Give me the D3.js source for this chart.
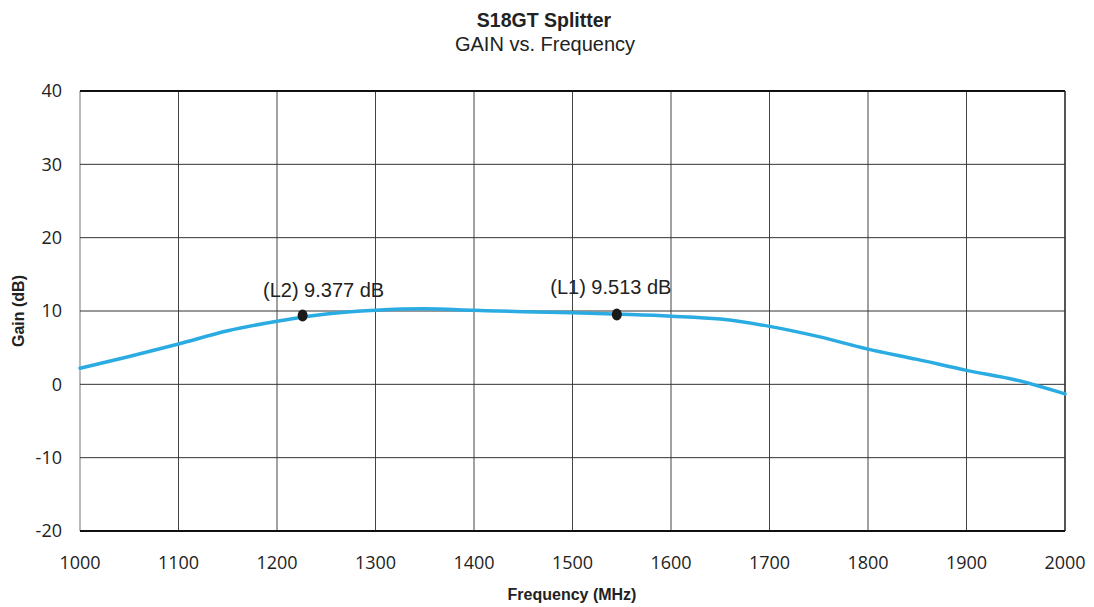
<!DOCTYPE html>
<html>
<head>
<meta charset="utf-8">
<script src="https://cdn.jsdelivr.net/npm/d3@7"></script>
<style>
	body { margin: 0; background: #fff; }
	svg text { font-family: "Liberation Sans", Arial, sans-serif; fill: #222; }
	svg text.tick { font-family: "Open Sans", "Noto Sans", sans-serif; }
</style>
</head>
<body>
<svg id="chart"></svg>
<script>
const freqs = [1000, 1050, 1100, 1150, 1200, 1250, 1300, 1350, 1400, 1450, 1500, 1550, 1600, 1650, 1700, 1750, 1800, 1850, 1900, 1950, 2000];
const gains = [2.2, 3.8, 5.5, 7.3, 8.6, 9.6, 10.1, 10.3, 10.1, 9.9, 9.75, 9.55, 9.3, 8.9, 7.9, 6.5, 4.8, 3.4, 1.9, 0.6, -1.3];

const markerNames = ['L2', 'L1'];
const markerFreqs = [1226, 1545];
const markerGains = [9.377, 9.513];

const xTicks = d3.range(1000, 2001, 100);
const yTicks = d3.range(-20, 41, 10);

const W = 1094, H = 607;
const margin = { top: 91, right: 29, bottom: 76, left: 80 };

const svg = d3.select('#chart').attr('width', W).attr('height', H);

const x = d3.scaleLinear().domain([1000, 2000]).range([margin.left, W - margin.right]);
const y = d3.scaleLinear().domain([-20, 40]).range([H - margin.bottom, margin.top]);

// grid
svg.append('g').selectAll('line').data(xTicks)
	.enter().append('line')
		.attr('x1', d => x(d)).attr('x2', d => x(d))
		.attr('y1', y(40)).attr('y2', y(-20))
		.attr('stroke', d => d === 1000 ? '#bbb' : (d === 2000 ? '#555' : '#444'))
		.attr('stroke-width', d => (d === 1000 || d === 2000) ? 2 : 1);
svg.append('g').selectAll('line').data(yTicks)
	.enter().append('line')
		.attr('x1', x(1000)).attr('x2', x(2000))
		.attr('y1', d => y(d)).attr('y2', d => y(d))
		.attr('stroke', d => (d === 40 || d === -20) ? '#111' : '#333')
		.attr('stroke-width', d => (d === 40 || d === -20) ? 2 : 1);

// tick labels
svg.append('g').selectAll('text').data(yTicks)
	.enter().append('text')
		.attr('class', 'tick')
		.attr('x', 62).attr('y', d => y(d))
		.attr('dy', '0.35em')
		.attr('text-anchor', 'end')
		.style('font-size', '18px')
		.text(d => d);
svg.append('g').selectAll('text').data(xTicks)
	.enter().append('text')
		.attr('class', 'tick')
		.attr('x', d => x(d)).attr('y', 569)
		.attr('text-anchor', 'middle')
		.style('font-size', '18px')
		.text(d => d);

// trace
const line = d3.line().x((d, i) => x(freqs[i])).y(d => y(d)).curve(d3.curveMonotoneX);
svg.append('path').datum(gains)
	.attr('d', line)
	.attr('fill', 'none')
	.attr('stroke', '#2aace2')
	.attr('stroke-width', 3.5)
	.attr('stroke-linecap', 'round');

// markers
const labelDx = [21, -6];
const labelDy = [-19, -21];
markerNames.forEach((name, i) => {
	svg.append('ellipse')
		.attr('cx', x(markerFreqs[i])).attr('cy', y(markerGains[i]))
		.attr('rx', 5).attr('ry', 6)
		.attr('fill', '#1a1a1a');
	svg.append('text')
		.attr('x', x(markerFreqs[i]) + labelDx[i]).attr('y', y(markerGains[i]) + labelDy[i])
		.attr('text-anchor', 'middle')
		.style('font-size', '20px')
		.text(`(${name}) ${markerGains[i].toFixed(3)} dB`);
});

// titles
svg.append('text').attr('x', 544).attr('y', 27)
	.attr('text-anchor', 'middle')
	.style('font-size', '19.5px').style('font-weight', 'bold')
	.text('S18GT Splitter');
svg.append('text').attr('x', 545).attr('y', 51)
	.attr('text-anchor', 'middle')
	.style('font-size', '20px')
	.text('GAIN vs. Frequency');
svg.append('text').attr('x', 572).attr('y', 600)
	.attr('text-anchor', 'middle')
	.style('font-size', '16px').style('font-weight', 'bold')
	.text('Frequency (MHz)');
svg.append('text')
	.attr('transform', `translate(24, ${y(10)}) rotate(-90)`)
	.attr('text-anchor', 'middle')
	.style('font-size', '16px').style('font-weight', 'bold')
	.text('Gain (dB)');
</script>
</body>
</html>
